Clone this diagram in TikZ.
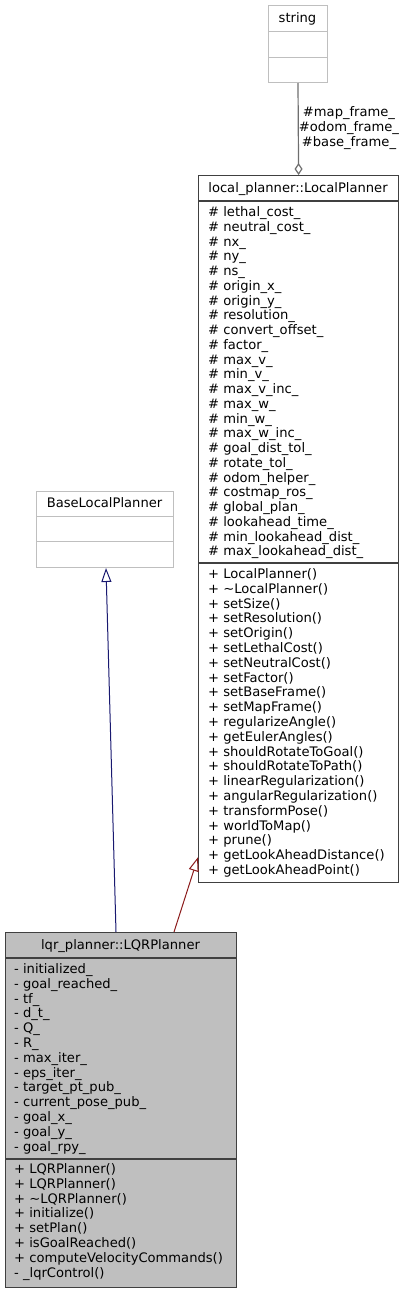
\documentclass[tikz,border=0pt]{standalone}
\usepackage{fontspec}
\setmainfont{DejaVu Sans}
\usetikzlibrary{arrows.meta,calc}
\definecolor{lightbox}{HTML}{BFBFBF}
\definecolor{darkbox}{HTML}{404040}
\definecolor{lqrfill}{HTML}{BFBFBF}
\definecolor{pubblue}{HTML}{191970}
\definecolor{privred}{HTML}{8B1A1A}
\definecolor{aggray}{HTML}{6E6E6E}
\begin{document}
\begin{tikzpicture}[x=1pt,y=-1pt,
  txt/.style={font=\fontsize{13.1}{14.78}\selectfont, inner sep=0pt, text=black},
  member/.style={txt, anchor=base west},
  ctitle/.style={txt, anchor=base},
  lightcls/.style={draw=lightbox, line width=1pt, anchor=north west, inner sep=0pt},
  darkcls/.style={draw=darkbox, line width=1.2pt, anchor=north west, inner sep=0pt},
  divlight/.style={draw=lightbox, line width=1pt},
  divdark/.style={draw=darkbox, line width=1.2pt},
  inherit/.style={line width=1pt, -{Triangle[open,length=14pt,width=10pt]}},
  aggr/.style={draw=aggray, line width=1.2pt, -{Diamond[open,length=12pt,width=8pt]}},
]
\useasboundingbox (0,0) rectangle (405,1293);

% ---- string ----
\node[lightcls, minimum width=59pt, minimum height=77pt] (str) at (268,5) {};
\draw[divlight] (str.west |- 0,31) -- (str.east |- 0,31);
\draw[divlight] (str.west |- 0,57) -- (str.east |- 0,57);
\node[ctitle] (strT) at (297.5,22.5) {string};

% ---- BaseLocalPlanner ----
\node[lightcls, minimum width=137pt, minimum height=76pt] (base) at (36,491) {};
\draw[divlight] (base.west |- 0,516) -- (base.east |- 0,516);
\draw[divlight] (base.west |- 0,541) -- (base.east |- 0,541);
\node[ctitle] (baseT) at (104.5,507.5) {BaseLocalPlanner};

% ---- local_planner::LocalPlanner ----
\node[darkcls, minimum width=200pt, minimum height=707pt] (lp) at (198,175) {};
\draw[divdark] (lp.west |- 0,201) -- (lp.east |- 0,201);
\draw[divdark] (lp.west |- 0,563) -- (lp.east |- 0,563);
\node[ctitle] (lpT) at (298,192.5) {local\_planner::LocalPlanner};
\foreach \t [count=\i from 0] in {lethal\_cost\_, neutral\_cost\_, nx\_, ny\_, ns\_,
  origin\_x\_, origin\_y\_, resolution\_, convert\_offset\_, factor\_, max\_v\_,
  min\_v\_, max\_v\_inc\_, max\_w\_, min\_w\_, max\_w\_inc\_, goal\_dist\_tol\_,
  rotate\_tol\_, odom\_helper\_, costmap\_ros\_, global\_plan\_, lookahead\_time\_,
  min\_lookahead\_dist\_, max\_lookahead\_dist\_}
  \node[member] (lpa\i) at (208,216.5+\i*14.76) {\# \t};
\foreach \t [count=\i from 0] in {LocalPlanner(), \textasciitilde{}LocalPlanner(),
  setSize(), setResolution(), setOrigin(), setLethalCost(), setNeutralCost(),
  setFactor(), setBaseFrame(), setMapFrame(), regularizeAngle(), getEulerAngles(),
  shouldRotateToGoal(), shouldRotateToPath(), linearRegularization(),
  angularRegularization(), transformPose(), worldToMap(), prune(),
  getLookAheadDistance(), getLookAheadPoint()}
  \node[member] (lpm\i) at (208,578.5+\i*14.8) {+ \t};

% ---- lqr_planner::LQRPlanner ----
\node[darkcls, fill=lqrfill, minimum width=231pt, minimum height=355pt] (lqr) at (5,932) {};
\draw[divdark] (lqr.west |- 0,958) -- (lqr.east |- 0,958);
\draw[divdark] (lqr.west |- 0,1159) -- (lqr.east |- 0,1159);
\node[ctitle] (lqrT) at (120.5,949.5) {lqr\_planner::LQRPlanner};
\foreach \t [count=\i from 0] in {initialized\_, goal\_reached\_, tf\_, d\_t\_, Q\_, R\_,
  max\_iter\_, eps\_iter\_, target\_pt\_pub\_, current\_pose\_pub\_, goal\_x\_,
  goal\_y\_, goal\_rpy\_}
  \node[member] (lqra\i) at (14,973.5+\i*14.8) {- \t};
\foreach \t [count=\i from 0] in {+ LQRPlanner(), + LQRPlanner(),
  + \textasciitilde{}LQRPlanner(), + initialize(), + setPlan(), + isGoalReached(),
  + computeVelocityCommands(), - \_lqrControl()}
  \node[member] (lqrm\i) at (14,1173.5+\i*14.8) {\t};

% ---- connectors ----
\draw[aggr] (str.south) -- (lp.north);
\node[txt, align=center] (aggL) at (349,128) {\#map\_frame\_\\\#odom\_frame\_\\\#base\_frame\_};
\draw[inherit, pubblue] ([xshift=111pt]lqr.north west) -- ([xshift=70pt]base.south west);
\draw[inherit, privred] ([xshift=169pt]lqr.north west) -- ([yshift=26pt]lp.south west);
\end{tikzpicture}
\end{document}
